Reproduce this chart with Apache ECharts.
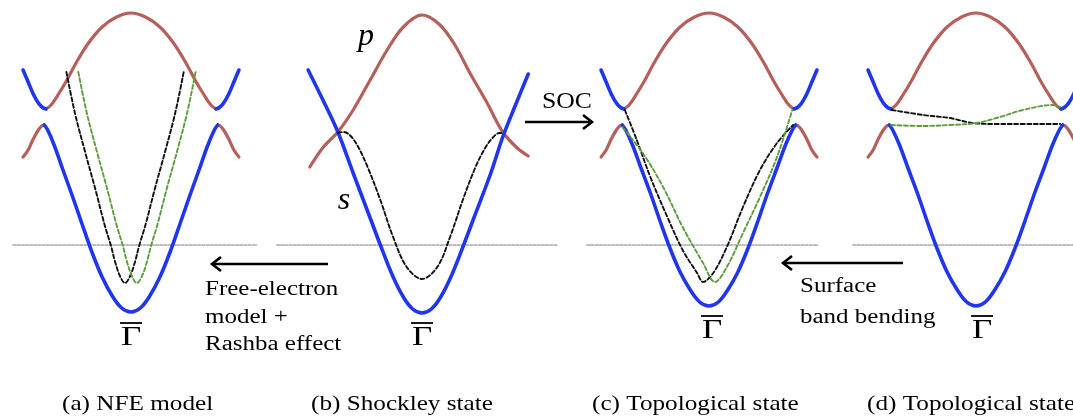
<!DOCTYPE html>
<html><head><meta charset="utf-8">
<script src="https://cdn.jsdelivr.net/npm/echarts@6/dist/echarts.min.js"></script>
<style>html,body{margin:0;padding:0;background:#fff}#c{width:1073px;height:418px}</style>
</head><body><div id="c"></div>
<script>
// ---- data (k in zone units, E in arbitrary energy units, Fermi level = 0) ----
const panelCenters = [131, 422, 709, 976];
const panelKRange = [[-1.5, 1.5], [-1.75, 1.65], [-1.5, 1.5], [-1.5, 1.14]];
const panelCaptions = ['(a) NFE model', '(b) Shockley state', '(c) Topological state', '(d) Topological state'];
const gammaLabel = 'Γ';

const fermiA = [[-1.39, 0], [1.48, 0]];
const fermiB = [[-1.71, 0], [1.60, 0]];
const fermiC = [[-1.44, 0], [1.28, 0]];
const fermiD = [[-1.45, 0], [1.25, 0]];

// gapped bulk bands (panels a, c, d)
const gapUpperBlueL = [[-1.27, 1.75], [-1.21, 1.63], [-1.15, 1.51], [-1.09, 1.42], [-1.04, 1.375], [-1.0, 1.36]];
const gapUpperRed = [[-1.0, 1.36], [-0.94, 1.40], [-0.86, 1.50], [-0.76, 1.64], [-0.64, 1.83], [-0.5, 2.02], [-0.34, 2.18], [-0.17, 2.28], [0, 2.32],
  [0.17, 2.28], [0.34, 2.18], [0.5, 2.02], [0.64, 1.83], [0.76, 1.64], [0.86, 1.50], [0.94, 1.40], [1.0, 1.36]];
const gapUpperBlueR = [[1.0, 1.36], [1.04, 1.375], [1.09, 1.42], [1.15, 1.51], [1.21, 1.63], [1.27, 1.75]];
const gapLowerRedL = [[-1.27, 0.88], [-1.21, 0.95], [-1.15, 1.06], [-1.09, 1.15], [-1.05, 1.19], [-1.02, 1.20]];
const gapLowerRedR = [[1.02, 1.20], [1.05, 1.19], [1.09, 1.15], [1.15, 1.06], [1.21, 0.95], [1.27, 0.88]];
const lowerBlueA = [[-1.02, 1.20], [-0.98, 1.15], [-0.9, 0.99], [-0.8, 0.75], [-0.69, 0.49], [-0.58, 0.22], [-0.46, -0.07], [-0.34, -0.32], [-0.22, -0.51], [-0.11, -0.63], [0, -0.67],
  [0.11, -0.63], [0.22, -0.51], [0.34, -0.32], [0.46, -0.07], [0.58, 0.22], [0.69, 0.49], [0.8, 0.75], [0.9, 0.99], [0.98, 1.15], [1.02, 1.20]];
const lowerBlueCD = [[-1.02, 1.20], [-0.98, 1.15], [-0.9, 1.0], [-0.8, 0.77], [-0.69, 0.52], [-0.58, 0.25], [-0.46, -0.03], [-0.34, -0.27], [-0.22, -0.45], [-0.11, -0.57], [0, -0.61],
  [0.11, -0.57], [0.22, -0.45], [0.34, -0.27], [0.46, -0.03], [0.58, 0.25], [0.69, 0.52], [0.8, 0.77], [0.9, 1.0], [0.98, 1.15], [1.02, 1.20]];

// panel a: NFE + Rashba split parabolas
const rashbaBlackA = [[-0.76, 1.73], [-0.66, 1.32], [-0.54, 0.93], [-0.42, 0.56], [-0.31, 0.20], [-0.235, -0.01], [-0.19, -0.16], [-0.13, -0.31], [-0.07, -0.38],
  [-0.01, -0.31], [0.05, -0.16], [0.095, -0.01], [0.17, 0.20], [0.28, 0.56], [0.40, 0.93], [0.52, 1.32], [0.62, 1.73]];
const rashbaGreenA = [[-0.62, 1.73], [-0.52, 1.32], [-0.40, 0.93], [-0.28, 0.56], [-0.17, 0.20], [-0.095, -0.01], [-0.05, -0.16], [0.01, -0.31], [0.07, -0.38],
  [0.13, -0.31], [0.19, -0.16], [0.235, -0.01], [0.31, 0.20], [0.42, 0.56], [0.54, 0.93], [0.66, 1.32], [0.76, 1.73]];

// panel b: crossing s and p bands, Shockley state
const pBandB = [[-1.32, 0.78], [-1.16, 0.98], [-0.99, 1.13], [-0.81, 1.35], [-0.61, 1.65], [-0.41, 1.95], [-0.22, 2.18], [0, 2.30],
  [0.2, 2.21], [0.38, 2.01], [0.57, 1.71], [0.76, 1.43], [0.95, 1.13], [1.12, 0.97], [1.25, 0.89]];
const sBandB = [[-1.34, 1.75], [-1.16, 1.44], [-0.99, 1.13], [-0.81, 0.72], [-0.61, 0.27], [-0.49, 0], [-0.35, -0.30], [-0.22, -0.52], [-0.11, -0.64], [0, -0.68],
  [0.11, -0.64], [0.22, -0.52], [0.35, -0.30], [0.49, 0], [0.61, 0.27], [0.81, 0.72], [0.95, 1.08], [1.1, 1.40], [1.25, 1.71]];
const shockleyB = [[-0.99, 1.12], [-0.92, 1.13], [-0.84, 1.09], [-0.75, 0.98], [-0.64, 0.78], [-0.49, 0.45], [-0.34, 0.08], [-0.18, -0.22], [0, -0.34],
  [0.18, -0.22], [0.33, 0.08], [0.48, 0.45], [0.63, 0.78], [0.75, 0.98], [0.84, 1.08], [0.91, 1.12], [0.95, 1.12]];

// panel c: topological surface states
const topoBlackC = [[-0.99, 1.35], [-0.85, 1.05], [-0.69, 0.68], [-0.49, 0.28], [-0.31, -0.05], [-0.14, -0.28], [-0.07, -0.37], [0.05, -0.28], [0.21, -0.02],
  [0.40, 0.38], [0.60, 0.75], [0.80, 1.02], [0.99, 1.20]];
const topoGreenC = [[-1.02, 1.18], [-0.78, 0.92], [-0.54, 0.58], [-0.31, 0.18], [-0.07, -0.18], [0.07, -0.37], [0.21, -0.22], [0.40, 0.12], [0.60, 0.48],
  [0.80, 0.88], [0.98, 1.35]];

// panel d: after surface band bending
const topoBlackD = [[-0.99, 1.35], [-0.62, 1.30], [-0.31, 1.27], [-0.04, 1.22], [0.25, 1.21], [0.55, 1.21], [0.91, 1.21], [0.99, 1.21]];
const topoGreenD = [[-1.0, 1.20], [-0.62, 1.19], [-0.31, 1.20], [0.01, 1.22], [0.28, 1.28], [0.55, 1.35], [0.91, 1.40], [0.99, 1.38]];

// ---- styles ----
const BLUE = '#1f36ee', RED = '#b5605a', GREEN = '#5e9c3e', BLACK = '#111111', FERMI = '#7d7d7d';
const SERIF = '"Liberation Serif", "Times New Roman", serif';
const KPX = 85; // pixels per k unit

function ln(g, data, color, width, dash, z) {
  return {
    type: 'line', xAxisIndex: g, yAxisIndex: g, data: data, showSymbol: false, symbol: 'none',
    smooth: 0.35, silent: true, z: z,
    lineStyle: { color: color, width: width, type: dash || 'solid', cap: 'round', join: 'round' }
  };
}
const DASH = [4, 2.5];
const DOT = [3, 1.2];

const series = [
  ln(0, fermiA, FERMI, 1.1, DOT, 1), ln(1, fermiB, FERMI, 1.1, DOT, 1), ln(2, fermiC, FERMI, 1.1, DOT, 1), ln(3, fermiD, FERMI, 1.1, DOT, 1)
];
[0, 2, 3].forEach(function (g) {
  series.push(ln(g, gapUpperRed, RED, 3.2, null, 2));
  series.push(ln(g, gapLowerRedL, RED, 3.2, null, 2));
  series.push(ln(g, gapLowerRedR, RED, 3.2, null, 2));
  series.push(ln(g, gapUpperBlueL, BLUE, 3.6, null, 3));
  series.push(ln(g, gapUpperBlueR, BLUE, 3.6, null, 3));
  series.push(ln(g, g === 0 ? lowerBlueA : lowerBlueCD, BLUE, 3.6, null, 3));
});
series.push(ln(1, pBandB, RED, 3.2, null, 2));
series.push(ln(1, sBandB, BLUE, 3.6, null, 3));
series.push(ln(0, rashbaBlackA, BLACK, 1.9, DASH, 5));
series.push(ln(0, rashbaGreenA, GREEN, 1.9, DASH, 5));
series.push(ln(1, shockleyB, BLACK, 1.9, DASH, 5));
series.push(ln(2, topoBlackC, BLACK, 1.9, DASH, 5));
series.push(ln(2, topoGreenC, GREEN, 1.9, DASH, 5));
series.push(ln(3, topoBlackD, BLACK, 1.9, DASH, 5));
series.push(ln(3, topoGreenD, GREEN, 1.9, DASH, 5));

const grids = [], xAxes = [], yAxes = [];
panelCenters.forEach(function (cx, i) {
  const r = panelKRange[i];
  grids.push({ left: cx + r[0] * KPX, width: (r[1] - r[0]) * KPX, top: 10, height: 335 });
  xAxes.push({ gridIndex: i, type: 'value', min: r[0], max: r[1], show: false });
  yAxes.push({ gridIndex: i, type: 'value', min: -1, max: 2.35, show: false });
});

// ---- annotations ----
function txt(x, y, s, size, opts) {
  opts = opts || {};
  return {
    type: 'text', x: x, y: y, scaleX: opts.sx || 1, z: 20, silent: true,
    style: {
      text: s, fill: '#000', font: (opts.italic ? 'italic ' : '') + size + 'px ' + SERIF,
      align: opts.align || 'left', verticalAlign: 'middle', textAlign: opts.align || 'left', textVerticalAlign: 'middle'
    }
  };
}
function seg(x1, y1, x2, y2, w) {
  return { type: 'line', z: 20, silent: true, shape: { x1: x1, y1: y1, x2: x2, y2: y2 }, style: { stroke: '#000', lineWidth: w || 2.6 } };
}
function chevron(pts) {
  return { type: 'polyline', z: 20, silent: true, shape: { points: pts }, style: { stroke: '#000', lineWidth: 2.6, fill: null } };
}
const gammaPos = [[131, 323, 338], [422, 323, 338], [712, 316, 331], [982, 316, 331]];
const captionX = [62, 311, 592, 867];

const graphic = [];
gammaPos.forEach(function (p) {
  graphic.push(seg(p[0] - 11, p[1], p[0] + 11, p[1], 1.8));
  graphic.push(txt(p[0], p[2], gammaLabel, 28, { align: 'center', sx: 1.25 }));
});
panelCaptions.forEach(function (c, i) {
  graphic.push(txt(captionX[i], 404, c, 21, { sx: 1.2 }));
});
graphic.push(txt(366, 37, 'p', 32, { align: 'center', italic: true }));
graphic.push(txt(344, 201, 's', 32, { align: 'center', italic: true }));
// SOC arrow
graphic.push(seg(525, 122, 591, 122));
graphic.push(chevron([[583, 115], [592, 122], [583, 129]]));
graphic.push(txt(567, 102, 'SOC', 24, { align: 'center', sx: 1.07 }));
// Free-electron arrow
graphic.push(seg(213, 264, 328, 264));
graphic.push(chevron([[221, 257], [212, 264], [221, 271]]));
graphic.push(txt(205, 290, 'Free-electron', 20, { sx: 1.25 }));
graphic.push(txt(205, 318, 'model +', 20, { sx: 1.25 }));
graphic.push(txt(205, 345, 'Rashba effect', 20, { sx: 1.25 }));
// Surface band bending arrow
graphic.push(seg(784, 263, 903, 263));
graphic.push(chevron([[792, 256], [783, 263], [792, 270]]));
graphic.push(txt(800, 287, 'Surface', 20, { sx: 1.25 }));
graphic.push(txt(800, 318, 'band bending', 20, { sx: 1.25 }));

const chart = echarts.init(document.getElementById('c'), null, { renderer: 'canvas' });
chart.setOption({
  backgroundColor: '#ffffff',
  animation: false,
  grid: grids, xAxis: xAxes, yAxis: yAxes,
  series: series,
  graphic: graphic
});
</script></body></html>
